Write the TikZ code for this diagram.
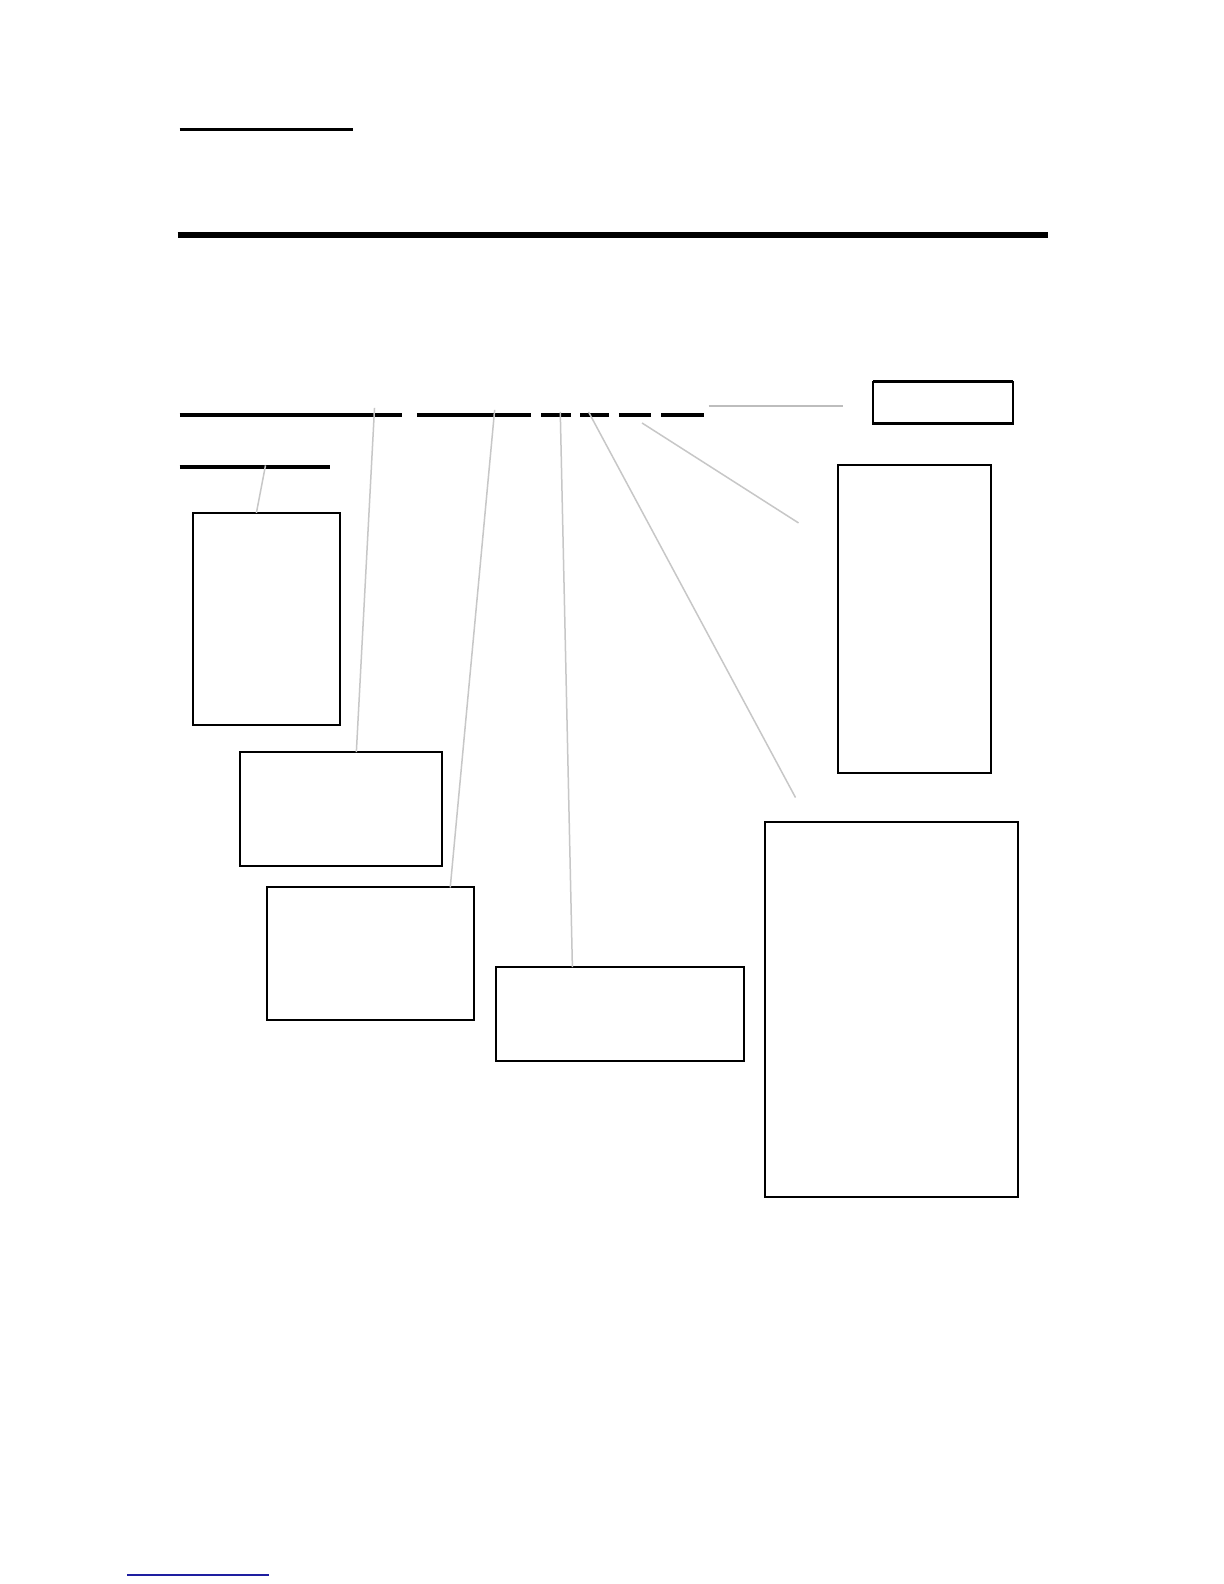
\documentclass[tikz,border=0pt]{standalone}
\begin{document}
\begin{tikzpicture}[x=1.0095pt,y=-1.0095pt,
  box/.style={draw=black,line width=2pt,inner sep=0pt,outer sep=0pt},
  rulethin/.style={line width=3pt,black},
  rulemid/.style={line width=4pt,black},
  rulethick/.style={line width=6.5pt,black},
  lead/.style={draw=black!22,line width=1.5pt},
  leadh/.style={draw=black!26,line width=2.5pt}]
\useasboundingbox (0,0) rectangle (1212.48,1569.1);
\fill[white] (0,0) rectangle (1212.48,1569.1);
% rules
\draw[rulethin] (178,128) -- (350,128);
\draw[rulethick] (176,233) -- (1038,233);
\foreach \a/\b in {178/398,413/526,536/566,575/603,613/645,655/697}
  \draw[rulemid] (\a,411) -- (\b,411);
\draw[rulemid] (178,463) -- (327,463);
% boxes
\node[box,minimum width=147pt,minimum height=212pt] (b1) at (264,613) {};
\node[box,minimum width=202pt,minimum height=114pt] (b2) at (338,801.5) {};
\node[box,minimum width=207pt,minimum height=133pt] (b3) at (367.5,945) {};
\node[box,minimum width=248pt,minimum height=94pt] (b4) at (614,1004.5) {};
\node[box,minimum width=253pt,minimum height=375pt] (b5) at (883.5,1000) {};
\node[box,minimum width=153pt,minimum height=308pt] (b6) at (906,613.5) {};
\node[box,minimum width=140pt,minimum height=42pt] (b7) at (934.5,399) {};
\draw[line width=2.8pt] (b7.north west) -- (b7.north east);
\draw[line width=2.8pt] (b7.south west) -- (b7.south east);
% leader anchor points
\coordinate (p1) at (263,461);
\coordinate (p2) at (371,404);
\coordinate (p3) at (490,406);
\coordinate (p4) at (555,408);
\coordinate (p5) at (583,408);
\coordinate (p6) at (636,419);
\coordinate (p7) at (702,402);
\coordinate (e5) at (788,790);
\coordinate (e6) at (791,518);
\coordinate (e7) at (835,402);
% leaders
\draw[lead] (p1) -- (254,0 |- b1.north);
\draw[lead] (p2) -- (353,0 |- b2.north);
\draw[lead] (p3) -- (446,0 |- b3.north);
\draw[lead] (p4) -- (567,0 |- b4.north);
\draw[lead] (p5) -- (e5);
\draw[lead] (p6) -- (e6);
\draw[leadh] (p7) -- (e7);
% bottom link line
\draw[line width=1.5pt,draw={rgb,255:red,30;green,30;blue,160}] (126,1560.2) -- (266,1560.2);
\end{tikzpicture}
\end{document}
